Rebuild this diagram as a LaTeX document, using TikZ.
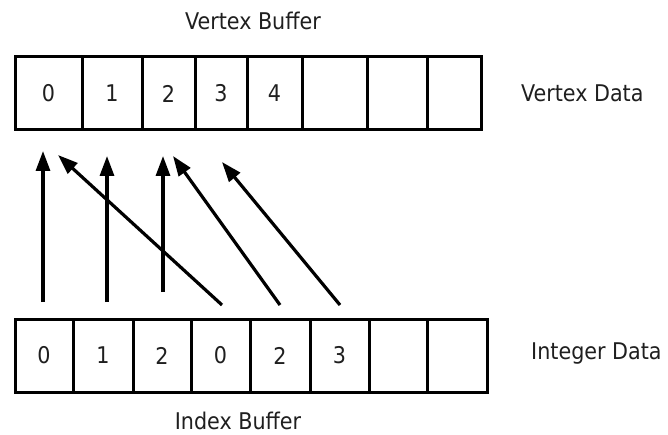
\documentclass[tikz,border=0pt]{standalone}
\usepackage{fontspec}
\setmainfont{DejaVu Sans Condensed}
\usetikzlibrary{arrows.meta}
\begin{document}
\begin{tikzpicture}[x=1pt,y=-1pt,
  cell/.style={draw=black,line width=3pt,rectangle,inner sep=0pt,
    minimum height=73pt,font=\fontsize{23}{26}\selectfont,text=black!88},
  lbl/.style={font=\fontsize{23}{26}\selectfont,text=black!88,inner sep=0pt},
  ptr/.style={line width=3.2pt,-{Triangle[length=20pt,width=14pt]}}]
\useasboundingbox (0,0) rectangle (668,435);
\fill[white] (0,0) rectangle (668,435);

% vertex buffer cells
\foreach \n/\a/\b/\t in {0/15/82/0,1/82/142/1,2/142/195/2,3/195/247/3,4/247/302/4,5/302/367/{},6/367/427/{},7/427/481/{}}
  \node[cell,minimum width=\b-\a] (v\n) at ({(\a+\b)/2},93.5) {\t};

% index buffer cells
\foreach \n/\a/\b/\t in {0/15/73/0,1/73/133/1,2/133/191/2,3/191/250/0,4/250/310/2,5/310/369/3,6/369/427/{},7/427/487/{}}
  \node[cell,minimum width=\b-\a] (i\n) at ({(\a+\b)/2},355.5) {\t};

% labels
\node[lbl] (vbuf) at (253,21) {Vertex Buffer};
\node[lbl,anchor=west] (vdat) at (521,93) {Vertex Data};
\node[lbl,anchor=west] (idat) at (531,354) {Integer Data};
\node[lbl] (ibuf) at (238,421) {Index Buffer};

% index -> vertex pointers
\coordinate (s0) at (43,302);  \coordinate (e0) at (43,151);
\coordinate (s1) at (107,302); \coordinate (e1) at (107,156);
\coordinate (s2) at (163,292); \coordinate (e2) at (163,156);
\coordinate (s3) at (222,305); \coordinate (e3) at (58,155);
\coordinate (s4) at (280,305); \coordinate (e4) at (173,156);
\coordinate (s5) at (340,305); \coordinate (e5) at (222,162);
\foreach \k in {0,...,5} \draw[ptr] (s\k) -- (e\k);
\end{tikzpicture}
\end{document}
